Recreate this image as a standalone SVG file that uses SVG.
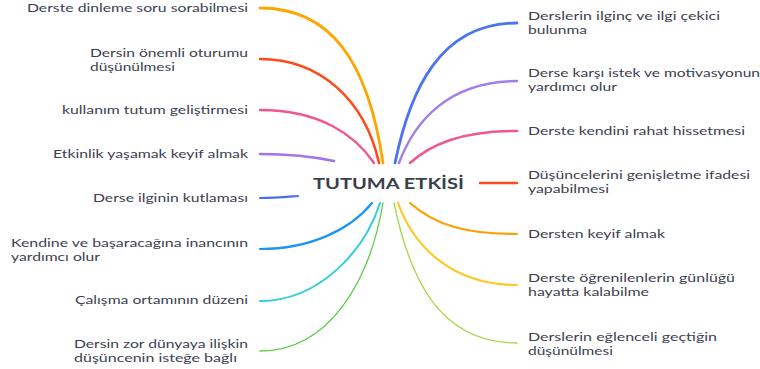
<svg xmlns="http://www.w3.org/2000/svg" width="760" height="369" viewBox="0 0 760 369">
<style>
.t{font-family:Lato,"Open Sans",sans-serif;font-size:11.6px;fill:#3c4150}
.c{font-family:Lato,"Open Sans",sans-serif;font-size:15.5px;font-weight:bold;fill:#3a3f4d}
path{fill:none;stroke-linecap:round}
</style>
<rect width="760" height="369" fill="#ffffff"/>
<g id="connectors">
<path d="M260,8 C330,8 368,60 383,163" stroke="#ffa500" stroke-width="2.8"/>
<path d="M260,59 C320,59 365,100 379,163" stroke="#ff4a1c" stroke-width="2.6"/>
<path d="M260,110 C320,110 355,135 374,163" stroke="#f0588a" stroke-width="2.5"/>
<path d="M260,154 C290,154 315,157 334,161" stroke="#a374e8" stroke-width="2.5"/>
<path d="M260,198 C275,198 285,197 298,196" stroke="#4a6ef0" stroke-width="2.2"/>
<path d="M260,249 C310,249 350,230 372,203" stroke="#1f95f2" stroke-width="2.2"/>
<path d="M260,301 C320,301 365,250 380,203" stroke="#2fd0d8" stroke-width="2"/>
<path d="M260,351 C330,351 370,280 383,203" stroke="#5ccc48" stroke-width="1.3"/>
<path d="M517,23 C440,23 410,90 395,163" stroke="#4a74f0" stroke-width="2.8"/>
<path d="M517,81 C450,81 415,120 399,163" stroke="#a47ee8" stroke-width="2.5"/>
<path d="M517,131 C460,131 430,145 410,163" stroke="#f0588a" stroke-width="2.5"/>
<path d="M480,183 L517,183" stroke="#ff4a1c" stroke-width="2.5"/>
<path d="M517,234 C465,234 435,225 410,203" stroke="#ffa000" stroke-width="2.2"/>
<path d="M517,285 C455,285 415,250 398,203" stroke="#ffc824" stroke-width="2.2"/>
<path d="M517,343 C440,343 410,280 394,203" stroke="#a2d94a" stroke-width="1.3"/>
</g>
<g id="center"><text class="c" x="313" y="189" textLength="151" lengthAdjust="spacingAndGlyphs">TUTUMA ETKİSİ</text></g>
<g id="n1"><text class="t" x="27" y="12" textLength="221" lengthAdjust="spacingAndGlyphs">Derste dinleme soru sorabilmesi</text></g>
<g id="n2"><text class="t" x="90" y="57" textLength="158" lengthAdjust="spacingAndGlyphs">Dersin önemli oturumu</text><text class="t" x="90" y="71" textLength="85" lengthAdjust="spacingAndGlyphs">düşünülmesi</text></g>
<g id="n3"><text class="t" x="62" y="114" textLength="186" lengthAdjust="spacingAndGlyphs">kullanım tutum geliştirmesi</text></g>
<g id="n4"><text class="t" x="53" y="158" textLength="195" lengthAdjust="spacingAndGlyphs">Etkinlik yaşamak keyif almak</text></g>
<g id="n5"><text class="t" x="93" y="202" textLength="155" lengthAdjust="spacingAndGlyphs">Derse ilginin kutlaması</text></g>
<g id="n6"><text class="t" x="11" y="247" textLength="237" lengthAdjust="spacingAndGlyphs">Kendine ve başaracağına inancının</text><text class="t" x="11" y="261" textLength="89" lengthAdjust="spacingAndGlyphs">yardımcı olur</text></g>
<g id="n7"><text class="t" x="75" y="304" textLength="173" lengthAdjust="spacingAndGlyphs">Çalışma ortamının düzeni</text></g>
<g id="n8"><text class="t" x="74" y="348" textLength="174" lengthAdjust="spacingAndGlyphs">Dersin zor dünyaya ilişkin</text><text class="t" x="74" y="362" textLength="163" lengthAdjust="spacingAndGlyphs">düşüncenin isteğe bağlı</text></g>
<g id="n9"><text class="t" x="528" y="20" textLength="192" lengthAdjust="spacingAndGlyphs">Derslerin ilginç ve ilgi çekici</text><text class="t" x="528" y="34" textLength="59" lengthAdjust="spacingAndGlyphs">bulunma</text></g>
<g id="n10"><text class="t" x="528" y="77" textLength="232" lengthAdjust="spacingAndGlyphs">Derse karşı istek ve motivasyonun</text><text class="t" x="528" y="91" textLength="89" lengthAdjust="spacingAndGlyphs">yardımcı olur</text></g>
<g id="n11"><text class="t" x="528" y="135" textLength="217" lengthAdjust="spacingAndGlyphs">Derste kendini rahat hissetmesi</text></g>
<g id="n12"><text class="t" x="528" y="179" textLength="222" lengthAdjust="spacingAndGlyphs">Düşüncelerini genişletme ifadesi</text><text class="t" x="528" y="193" textLength="81" lengthAdjust="spacingAndGlyphs">yapabilmesi</text></g>
<g id="n13"><text class="t" x="528" y="238" textLength="137" lengthAdjust="spacingAndGlyphs">Dersten keyif almak</text></g>
<g id="n14"><text class="t" x="528" y="282" textLength="207" lengthAdjust="spacingAndGlyphs">Derste öğrenilenlerin günlüğü</text><text class="t" x="528" y="296" textLength="121" lengthAdjust="spacingAndGlyphs">hayatta kalabilme</text></g>
<g id="n15"><text class="t" x="528" y="341" textLength="189" lengthAdjust="spacingAndGlyphs">Derslerin eğlenceli geçtiğin</text><text class="t" x="528" y="355" textLength="85" lengthAdjust="spacingAndGlyphs">düşünülmesi</text></g>
</svg>
